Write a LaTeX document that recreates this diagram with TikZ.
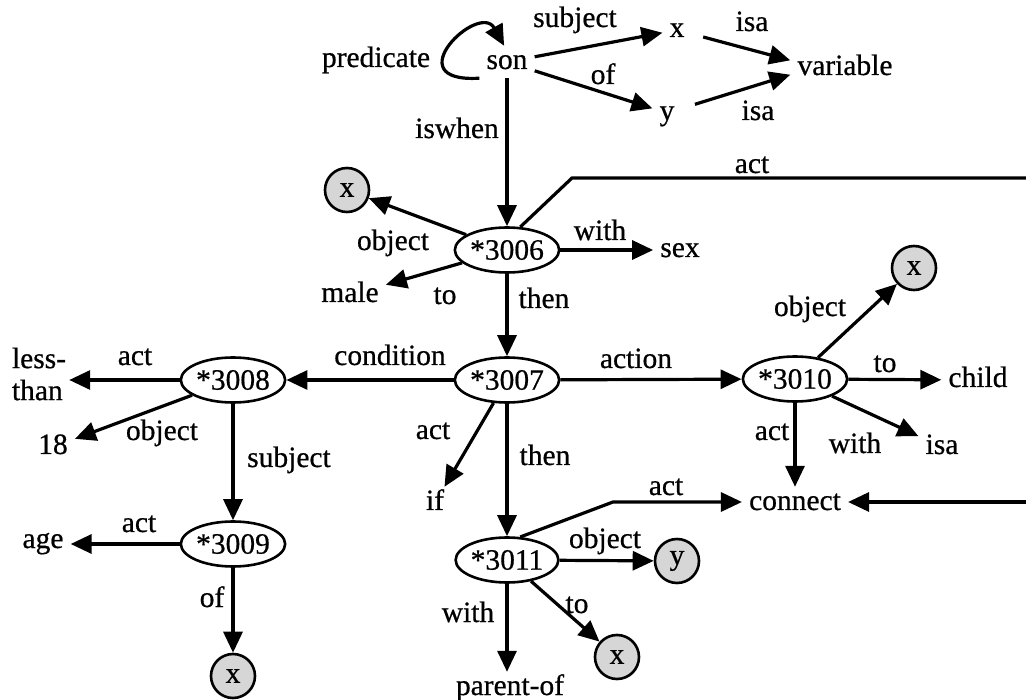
\documentclass[tikz,border=0pt]{standalone}
\usepackage{fontspec}
\setmainfont{Liberation Serif}[FakeBold=0.6]
\usetikzlibrary{shapes.geometric,arrows.meta}
\begin{document}
\begin{tikzpicture}[x=1pt,y=-1pt,
  font=\fontsize{29.5}{32}\selectfont,
  txt/.style={inner xsep=7pt, inner ysep=3pt, text height=20pt, text depth=6pt},
  lbl/.style={inner sep=0pt, text height=20pt, text depth=6pt},
  ell/.style={ellipse, draw, line width=2.6pt, minimum width=92pt, minimum height=45pt, inner sep=0pt},
  var/.style={circle, draw, line width=2.6pt, fill=black!16, minimum size=44pt, inner sep=0pt},
  arr/.style={line width=3.2pt, -{Triangle[length=21pt,width=19pt]}},
  ln/.style={line width=3.2pt}]
\useasboundingbox (0,0) rectangle (1026,700);
\fill[white] (0,0) rectangle (1026,700);

% text nodes
\node[txt] (son) at (507,62) {son};
\node[txt] (xt) at (677,30) {x};
\node[txt] (yt) at (667,113) {y};
\node[txt] (variable) at (845,68) {variable};
\node[txt] (male) at (350,295) {male};
\node[txt] (sex) at (680,250) {sex};
\node[inner xsep=3pt, inner ysep=3pt, align=left] (lessthan) at (39,374) {less-\\than};
\node[txt] (n18) at (53,447) {18};
\node[txt] (age) at (43,541) {age};
\node[txt] (if) at (435,503) {if};
\node[txt] (child) at (978,380) {child};
\node[txt] (isa) at (942,447) {isa};
\node[txt] (connect) at (795,503) {connect};
\node[txt] (parentof) at (510,688) {parent-of};

% ellipses
\node[ell] (s006) at (507,250) {*3006};
\node[ell] (s007) at (507,380) {*3007};
\node[ell] (s008) at (233,380) {*3008};
\node[ell] (s009) at (233,544) {*3009};
\node[ell] (s010) at (795,379) {*3010};
\node[ell] (s011) at (507,560) {*3011};

% variable circles
\node[var] (xa) at (347,190) {x};
\node[var] (xb) at (914,268) {x};
\node[var] (xc) at (233,676) {x};
\node[var] (yc) at (677,561) {y};
\node[var] (xd) at (617,657) {x};

% free ends
\coordinate (c1) at (572,178);
\coordinate (e1) at (1026,178);
\coordinate (c2) at (613,502);
\coordinate (e2) at (1026,502);

% connectors
\draw[arr] (son.south west) .. controls +(-85,5) and +(-25,-45) .. (son.100);
\draw[arr] (son) -- (xt);
\draw[arr] (son) -- (yt);
\draw[arr, shorten <=12pt] (xt) -- (variable.172);
\draw[arr, shorten <=14pt] (yt) -- (variable.187);
\draw[arr] (son) -- (s006);
\draw[arr] (s006) -- (xa);
\draw[arr] (s006) -- (male);
\draw[arr] (s006) -- (sex);
\draw[ln] (s006.60) -- (c1) -- (e1);
\draw[arr] (s006) -- (s007);
\draw[arr] (s007) -- (s008);
\draw[arr] (s007) -- (s010);
\draw[arr] (s007) -- (if);
\draw[arr] (s007) -- (s011);
\draw[arr] (s008.west) -- (s008.west -| lessthan.east);
\draw[arr] (s008) -- (n18);
\draw[arr] (s008) -- (s009);
\draw[arr] (s009.west) -- (s009.west -| age.east);
\draw[arr] (s009) -- (xc);
\draw[arr] (s010) -- (xb);
\draw[arr] (s010) -- (child);
\draw[arr] (s010) -- (isa);
\draw[arr] (s010) -- (connect);
\draw[arr] (s011.60) -- (c2) -- (c2 -| connect.west);
\draw[arr] (e2) -- (e2 -| connect.east);
\draw[arr] (s011) -- (yc);
\draw[arr] (s011) -- (xd);
\draw[arr] (s011) -- (s011 |- parentof.north);

% labels
\node[lbl] (lpred) at (376,60) {predicate};
\node[lbl] (lsubj) at (575,20) {subject};
\node[lbl] (lof) at (603,77) {of};
\node[lbl] (lisa1) at (752,24) {isa};
\node[lbl] (lisa2) at (758,113) {isa};
\node[lbl] (liswhen) at (457,131) {iswhen};
\node[lbl] (lact1) at (752,166) {act};
\node[lbl] (lobj1) at (393,243) {object};
\node[lbl] (lto1) at (445,297) {to};
\node[lbl] (lwith1) at (600,233) {with};
\node[lbl] (lthen1) at (544,301) {then};
\node[lbl] (lcond) at (390,358) {condition};
\node[lbl] (laction) at (636,361) {action};
\node[lbl] (lact2) at (135,358) {act};
\node[lbl] (lobj2) at (162,433) {object};
\node[lbl] (lsubj2) at (289,460) {subject};
\node[lbl] (lact3) at (139,525) {act};
\node[lbl] (lof2) at (212,600) {of};
\node[lbl] (lact4) at (433,432) {act};
\node[lbl] (lthen2) at (545,458) {then};
\node[lbl] (lact5) at (666,488) {act};
\node[lbl] (lobj3) at (605,541) {object};
\node[lbl] (lto2) at (577,606) {to};
\node[lbl] (lwith2) at (468,615) {with};
\node[lbl] (lobj4) at (810,309) {object};
\node[lbl] (lto3) at (885,365) {to};
\node[lbl] (lact6) at (772,433) {act};
\node[lbl] (lwith3) at (855,446) {with};
\end{tikzpicture}
\end{document}
